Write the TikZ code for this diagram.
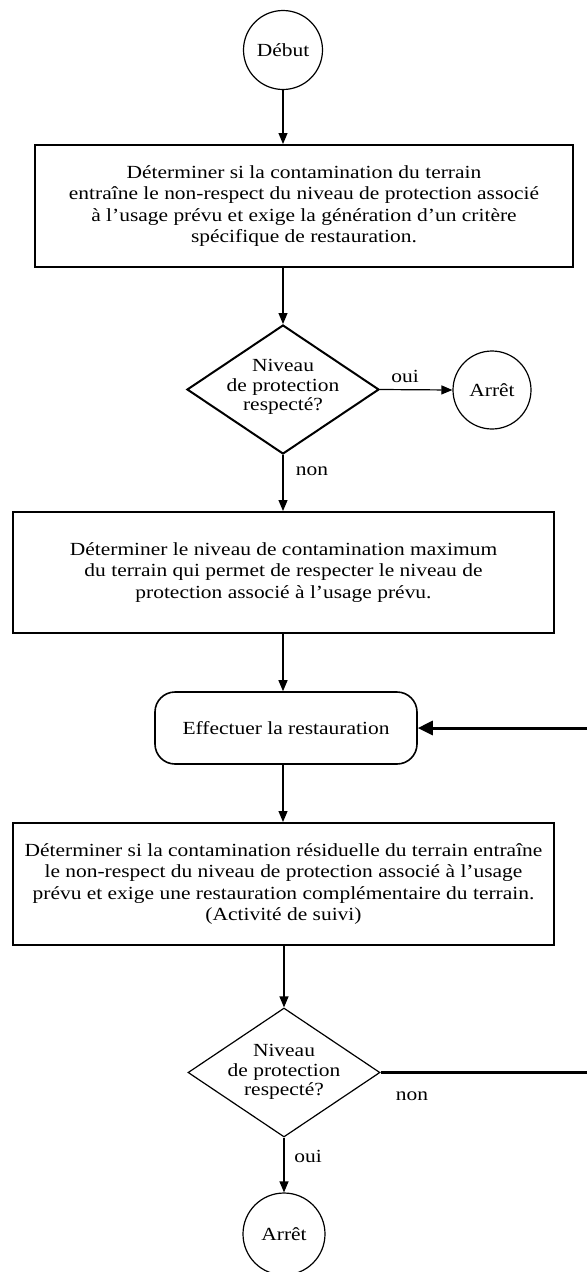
\documentclass[tikz,border=0pt]{standalone}
\usepackage{fontspec}
\setmainfont[FakeStretch=1.16]{Liberation Serif}
\usetikzlibrary{shapes.geometric,arrows.meta}
\begin{document}
\begin{tikzpicture}[x=1pt,y=-1pt,
  txt/.style={font=\fontsize{18.5}{21.5}\selectfont},
  term/.style={circle,draw,line width=1.2pt,inner sep=0,txt},
  stepbox/.style={rectangle,draw,line width=2pt,inner sep=0,align=center,txt},
  roundbox/.style={rectangle,draw,rounded corners=20pt,line width=1.6pt,inner sep=0,txt},
  dec/.style={diamond,draw,minimum width=192pt,minimum height=129pt,inner sep=0},
  dectxt/.style={align=center,inner sep=0,font=\fontsize{18.5}{19.5}\selectfont},
  arr/.style={-{Triangle[length=11pt,width=9pt]},line width=1.2pt},
  thickarr/.style={-{Triangle[length=15pt,width=14pt]},line width=3pt},
  thickline/.style={line width=3pt},
  lab/.style={txt,inner sep=0,anchor=base}
]
\useasboundingbox (0,0) rectangle (587,1272);

\node[term,minimum size=79pt] (debut) at (283,50) {Début};

\node[stepbox,minimum width=538pt,minimum height=122pt] (box1) at (304,206)
  {Déterminer si la contamination du terrain\\
   entraîne le non-respect du niveau de protection associé\\
   à l'usage prévu et exige la génération d'un critère\\
   spécifique de restauration.};

\node[dec,line width=2pt] (d1) at (283,389.5) {};
\node[dectxt] (d1t) at (283,387) {Niveau\\de protection\\respecté?};

\node[term,minimum size=78pt] (stop1) at (492,390) {Arrêt};

\node[stepbox,minimum width=541pt,minimum height=121pt] (box2) at (283.5,572.5)
  {Déterminer le niveau de contamination maximum\\
   du terrain qui permet de respecter le niveau de\\
   protection associé à l'usage prévu.};

\node[roundbox,minimum width=262pt,minimum height=72pt] (eff) at (286,728) {Effectuer la restauration};

\node[stepbox,minimum width=541pt,minimum height=122pt] (box3) at (283.5,884)
  {Déterminer si la contamination résiduelle du terrain entraîne\\
   le non-respect du niveau de protection associé à l'usage\\
   prévu et exige une restauration complémentaire du terrain.\\
   (Activité de suivi)};

\node[dec,line width=1.2pt] (d2) at (284,1072.5) {};
\node[dectxt] (d2t) at (284,1072) {Niveau\\de protection\\respecté?};

\node[term,minimum size=82pt] (stop2) at (284,1234) {Arrêt};

\coordinate (eR) at (587,728);
\coordinate (dR) at (587,1072.5);

% connectors
\draw[arr] (debut.south) -- (debut.south |- box1.north);
\draw[arr] (box1.south -| d1.north) -- (d1.north);
\draw[arr] (d1.east) -- (stop1.west);
\draw[arr] (d1.south) -- (d1.south |- box2.north);
\draw[arr] (box2.south -| 283,0) -- (283,0 |- eff.north);
\draw[arr] (eff.south -| 283,0) -- (283,0 |- box3.north);
\draw[arr] (box3.south -| d2.north) -- (d2.north);
\draw[arr] (d2.south) -- (stop2.north);
\draw[thickline] (d2.east) -- (dR);
\draw[thickarr] (eR) -- (eff.east);

% labels
\node[lab] (oui1) at (405,382) {oui};
\node[lab] (non1) at (312,475) {non};
\node[lab] (non2) at (412,1100) {non};
\node[lab] (oui2) at (308,1162) {oui};
\end{tikzpicture}
\end{document}
